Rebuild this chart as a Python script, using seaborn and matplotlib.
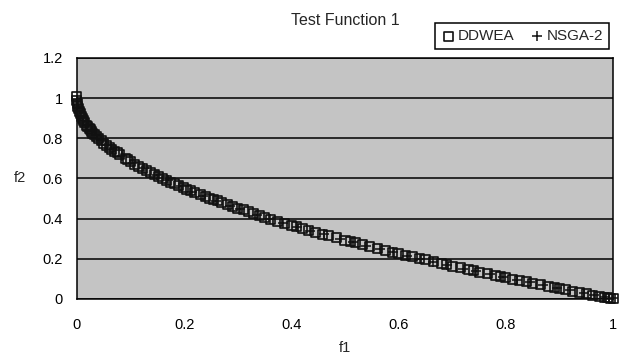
import matplotlib
matplotlib.use("Agg")
import matplotlib.pyplot as plt
import seaborn as sns
import pandas as pd

# DDWEA points
ddwea_f1 = [0.000, 0.000, 0.001, 0.002, 0.003, 0.004, 0.006, 0.008, 0.010, 0.012,
            0.015, 0.018, 0.020, 0.023, 0.025, 0.028, 0.030, 0.033, 0.036, 0.040,
            0.045, 0.050, 0.055, 0.060, 0.065, 0.070, 0.075, 0.080, 0.090, 0.095,
            0.100, 0.108, 0.115, 0.122, 0.130, 0.138, 0.145, 0.152, 0.160, 0.168,
            0.175, 0.182, 0.190, 0.198, 0.205, 0.212, 0.220, 0.230, 0.240, 0.248,
            0.255, 0.262, 0.270, 0.280, 0.290, 0.300, 0.310, 0.320, 0.330, 0.340,
            0.350, 0.362, 0.375, 0.388, 0.400, 0.410, 0.420, 0.432, 0.445, 0.458,
            0.470, 0.485, 0.500, 0.510, 0.520, 0.532, 0.545, 0.560, 0.575, 0.588,
            0.600, 0.612, 0.625, 0.638, 0.650, 0.665, 0.680, 0.690, 0.700, 0.715,
            0.730, 0.740, 0.750, 0.765, 0.780, 0.790, 0.800, 0.812, 0.825, 0.838,
            0.850, 0.865, 0.880, 0.890, 0.900, 0.912, 0.925, 0.938, 0.950, 0.962,
            0.975, 0.983, 0.990, 0.995, 1.000]
ddwea_f2 = [1.010, 0.990, 0.975, 0.960, 0.948, 0.935, 0.922, 0.910, 0.900, 0.890,
            0.878, 0.866, 0.858, 0.850, 0.842, 0.834, 0.826, 0.818, 0.810, 0.800,
            0.788, 0.776, 0.766, 0.755, 0.745, 0.735, 0.727, 0.718, 0.700, 0.692,
            0.684, 0.672, 0.660, 0.650, 0.640, 0.630, 0.620, 0.610, 0.600, 0.590,
            0.581, 0.573, 0.564, 0.556, 0.547, 0.540, 0.531, 0.521, 0.510, 0.502,
            0.495, 0.488, 0.480, 0.471, 0.461, 0.452, 0.443, 0.434, 0.425, 0.417,
            0.408, 0.398, 0.388, 0.377, 0.368, 0.359, 0.352, 0.343, 0.333, 0.323,
            0.315, 0.304, 0.293, 0.286, 0.279, 0.270, 0.262, 0.252, 0.242, 0.233,
            0.226, 0.218, 0.210, 0.202, 0.194, 0.185, 0.175, 0.169, 0.163, 0.155,
            0.146, 0.140, 0.134, 0.126, 0.117, 0.111, 0.106, 0.099, 0.092, 0.085,
            0.078, 0.070, 0.062, 0.056, 0.051, 0.045, 0.038, 0.032, 0.026, 0.019,
            0.013, 0.009, 0.005, 0.003, 0.000]

# NSGA-2 points
nsga_f1 = [0.000, 0.002, 0.005, 0.008, 0.012, 0.018, 0.028, 0.035, 0.045, 0.055,
           0.065, 0.085, 0.105, 0.125, 0.150, 0.170, 0.195, 0.215, 0.235, 0.260,
           0.285, 0.305, 0.335, 0.360, 0.385, 0.410, 0.435, 0.460, 0.490, 0.515,
           0.540, 0.565, 0.590, 0.615, 0.640, 0.665, 0.690, 0.720, 0.745, 0.770,
           0.795, 0.820, 0.845, 0.870, 0.895, 0.920, 0.945, 0.965, 0.985, 1.000]
nsga_f2 = [0.990, 0.960, 0.935, 0.910, 0.890, 0.865, 0.835, 0.815, 0.790, 0.765,
           0.745, 0.710, 0.675, 0.650, 0.615, 0.590, 0.560, 0.535, 0.515, 0.490,
           0.465, 0.450, 0.420, 0.400, 0.380, 0.360, 0.340, 0.322, 0.300, 0.283,
           0.265, 0.248, 0.232, 0.215, 0.200, 0.185, 0.170, 0.150, 0.138, 0.125,
           0.110, 0.095, 0.082, 0.068, 0.055, 0.043, 0.030, 0.020, 0.008, 0.003]

x_ticks = [0, 0.2, 0.4, 0.6, 0.8, 1]
x_tick_labels = ["0", "0.2", "0.4", "0.6", "0.8", "1"]
y_ticks = [0, 0.2, 0.4, 0.6, 0.8, 1, 1.2]
y_tick_labels = ["0", "0.2", "0.4", "0.6", "0.8", "1", "1.2"]

ddwea = pd.DataFrame({"f1": ddwea_f1, "f2": ddwea_f2})
nsga = pd.DataFrame({"f1": nsga_f1, "f2": nsga_f2})

sns.set_style("white")
plt.rcParams["font.family"] = ["Liberation Sans", "DejaVu Sans"]

fig = plt.figure(figsize=(6.25, 3.58), dpi=100)
ax = fig.add_axes([0.123, 0.165, 0.858, 0.673])
ax.set_facecolor("#c4c4c4")

sns.scatterplot(data=ddwea, x="f1", y="f2", marker="s", s=42,
                facecolors="none", edgecolor="#111111", linewidth=1.2,
                label="DDWEA", ax=ax, zorder=3, clip_on=False)
sns.scatterplot(data=nsga, x="f1", y="f2", marker="+", s=44,
                color="#111111", linewidth=1.1, label="NSGA-2",
                ax=ax, zorder=4, clip_on=False)

ax.set_xlim(0, 1)
ax.set_ylim(0, 1.2)
ax.set_xticks(x_ticks)
ax.set_xticklabels(x_tick_labels)
ax.set_yticks(y_ticks)
ax.set_yticklabels(y_tick_labels)
ax.yaxis.grid(True, color="black", linewidth=1.1)
ax.xaxis.grid(False)
ax.set_axisbelow(True)
for sp in ax.spines.values():
    sp.set_color("black")
    sp.set_linewidth(1.1)
ax.tick_params(axis="x", labelsize=10.5, colors="black", length=3,
               direction="in", pad=14)
ax.tick_params(axis="y", labelsize=10.5, colors="black", length=0, pad=10)
ax.set_xlabel("f1", fontsize=10.5, labelpad=6)
ax.set_ylabel("f2", fontsize=10.5, rotation=0, labelpad=16, va="center")
ax.set_title("Test Function 1", fontsize=11.5, pad=24)

leg = ax.legend(loc="lower right", bbox_to_anchor=(1.0, 1.02), ncol=2,
                frameon=True, fancybox=False, edgecolor="black",
                fontsize=11, handletextpad=0.2, columnspacing=1.0,
                borderpad=0.4, handlelength=0.9, borderaxespad=0.25,
                framealpha=1)
leg.get_frame().set_linewidth(1.1)

fig.savefig("out.png", dpi=100, facecolor="white")
